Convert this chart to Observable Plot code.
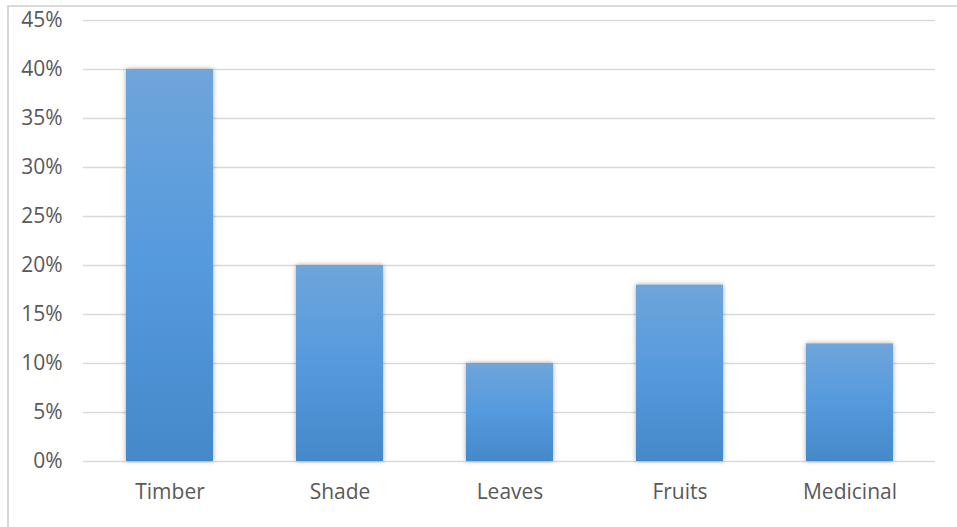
<!DOCTYPE html>
<html>
<head>
<meta charset="utf-8">
<script src="https://cdn.jsdelivr.net/npm/d3@7"></script>
<script src="https://cdn.jsdelivr.net/npm/@observablehq/plot@0.6"></script>
<style>
  html, body { margin: 0; padding: 0; background: #fff; }
  #wrap { position: relative; width: 957px; height: 527px; overflow: hidden; }
  #frame { position: absolute; left: 7px; top: 5px; width: 970px; height: 560px; border: 2px solid #d9d9d9; box-sizing: border-box; }
  #chart { position: absolute; left: 0; top: 0; }
  svg text { font-family: "Open Sans", Lato, sans-serif; }
</style>
</head>
<body>
<div id="wrap"><div id="frame"></div><div id="chart"></div></div>
<script>
const categories = ["Timber", "Shade", "Leaves", "Fruits", "Medicinal"];
const values = [0.40, 0.20, 0.10, 0.18, 0.12];
const yTicks = [0, 0.05, 0.10, 0.15, 0.20, 0.25, 0.30, 0.35, 0.40, 0.45];

const data = categories.map((c, i) => ({category: c, value: values[i]}));

const chart = Plot.plot({
  width: 957,
  height: 527,
  marginLeft: 83,
  marginRight: 22,
  marginTop: 20,
  marginBottom: 66,
  style: {background: "transparent", fontSize: "21px", color: "#595959"},
  x: {domain: categories, paddingInner: 0.49, paddingOuter: 0.245, label: null},
  y: {domain: [0, 0.45], label: null},
  marks: [
    Plot.gridY(yTicks, {stroke: "#d9d9d9", strokeOpacity: 1, strokeWidth: 1.5}),
    Plot.barY(data, {x: "category", y: "value", fill: "url(#barGrad)"}),
    Plot.axisX({tickSize: 0, tickPadding: 23, fontSize: 21, fill: "#595959"}),
    Plot.axisY({ticks: yTicks, tickFormat: d3.format(".0%"), tickSize: 0, tickPadding: 21, fontSize: 21, fill: "#595959"})
  ]
});

const svg = d3.select(chart);
const defs = svg.insert("defs", ":first-child");
const g = defs.append("linearGradient").attr("id", "barGrad").attr("x1", 0).attr("y1", 0).attr("x2", 0).attr("y2", 1);
g.append("stop").attr("offset", "0%").attr("stop-color", "#6fa5da");
g.append("stop").attr("offset", "50%").attr("stop-color", "#559ade");
g.append("stop").attr("offset", "100%").attr("stop-color", "#4589c9");
const f = defs.append("filter").attr("id", "shadow").attr("x", "-20%").attr("y", "-20%").attr("width", "140%").attr("height", "140%");
f.append("feDropShadow").attr("dx", 0).attr("dy", 0).attr("stdDeviation", 2.5).attr("flood-color", "#000").attr("flood-opacity", 0.35);
svg.selectAll("g[aria-label='bar'] rect").attr("filter", "url(#shadow)");

document.getElementById("chart").appendChild(chart);
</script>
</body>
</html>
